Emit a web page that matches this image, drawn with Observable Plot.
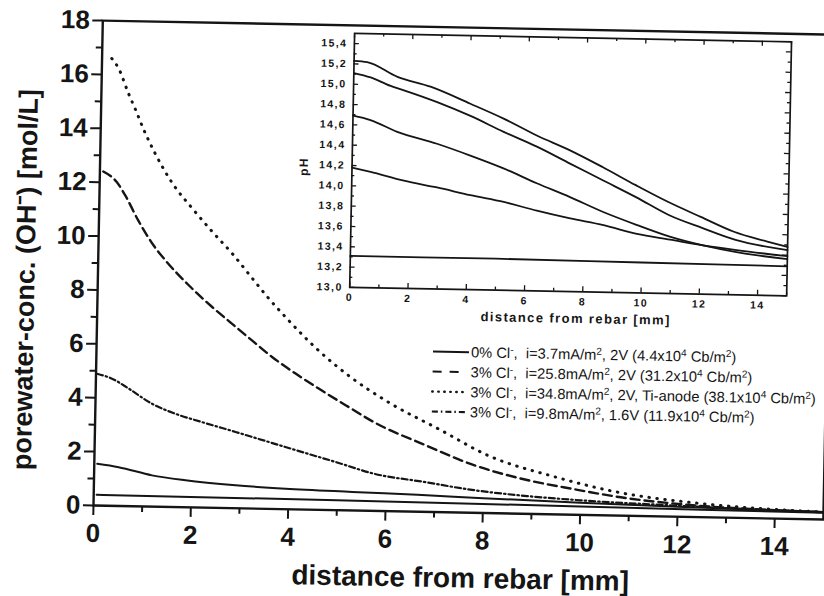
<!DOCTYPE html>
<html>
<head>
<meta charset="utf-8">
<script src="https://cdn.jsdelivr.net/npm/d3@7"></script>
<script src="https://cdn.jsdelivr.net/npm/@observablehq/plot@0.6"></script>
<style>
  html, body { margin: 0; padding: 0; background: #fff; overflow: hidden; }
  #page { position: relative; width: 824px; height: 596px;
          transform-origin: 93px 505px; transform: rotate(1.1deg); }
  #page > svg { position: absolute; overflow: visible; }
  .inset text { letter-spacing: 1.4px; }
  .legend text { font-family: "Liberation Sans", Arial, sans-serif; font-size: 14.7px; white-space: pre; fill: #151515; }
</style>
</head>
<body>
<div id="page"></div>
<script>
// ---- main panel: OH- concentration [mol/L] vs distance from rebar [mm]
const ti34 = [[0.2,16.6],[0.34,16.25],[0.56,15.3],[0.7,14.75],[0.88,14.0],[1.13,13.1],[1.52,11.95],
  [1.91,11.1],[2.33,10.25],[2.75,9.45],[3.17,8.55],[3.45,7.95],[3.94,7.0],[4.57,5.9],[5.23,4.95],
  [6.06,4.0],[7.1,3.05],[8.07,2.15],[9.45,1.4],[10.82,0.85],[12.2,0.55],[13.5,0.38],[15,0.28]];
const cur258 = [[0.07,12.4],[0.35,12.02],[0.53,11.53],[0.81,10.6],[1.13,9.7],[1.38,9.15],[1.87,8.24],
  [2.36,7.45],[2.77,6.85],[3.19,6.24],[3.61,5.64],[4.1,5.04],[4.58,4.5],[5.2,3.84],[5.72,3.3],
  [6.76,2.5],[7.8,1.77],[8.83,1.28],[9.86,0.95],[10.83,0.68],[12.2,0.45],[13.5,0.34],[15,0.27]];
const cur98 = [[0.02,4.89],[0.33,4.72],[0.68,4.36],[1.16,3.82],[1.65,3.46],[2.2,3.17],[2.89,2.83],
  [3.58,2.48],[4.27,2.13],[4.95,1.79],[5.75,1.38],[6.78,1.11],[7.81,0.84],[8.9,0.66],[10,0.54],
  [12,0.41],[13.5,0.33],[15,0.27]];
const noCl = [[0.06,1.55],[0.5,1.44],[1.19,1.16],[1.88,1.0],[2.91,0.85],[3.94,0.76],[5.31,0.69],
  [6.65,0.63],[8,0.55],[10,0.45],[12,0.37],[15,0.28]];
const solidLow = [[0.06,0.4],[5,0.37],[10,0.31],[15,0.25]];

const xMajor = [0, 2, 4, 6, 8, 10, 12, 14];
const xMinor = [1, 3, 5, 7, 9, 11, 13];
const yMajor = [0, 2, 4, 6, 8, 10, 12, 14, 16, 18];
const yMinor = [1, 3, 5, 7, 9, 11, 13, 15, 17];

const xTitle = "distance from rebar [mm]";
const yTitle = "porewater-conc. (OH\u207B) [mol/L]";

// ---- inset: pH vs distance from rebar [mm]
const pHa = [[0,15.23],[0.45,15.22],[1.5,15.08],[2.64,14.99],[4.02,14.83],[5.17,14.69],[6.32,14.53],
  [7.47,14.39],[8.61,14.23],[9.75,14.06],[10.88,13.9],[12.0,13.76],[13.15,13.62],[14.3,13.53],[15,13.48]];
const pHb = [[0,15.11],[0.58,15.07],[1.27,14.99],[1.73,14.95],[2.88,14.84],[4.03,14.71],[5.18,14.56],
  [6.33,14.42],[7.48,14.26],[8.63,14.1],[9.78,13.94],[10.92,13.77],[12.07,13.65],[13.21,13.54],[15,13.45]];
const pHc = [[0,14.69],[0.6,14.65],[1.53,14.54],[2.9,14.43],[4.05,14.32],[5.2,14.2],[6.35,14.06],
  [7.5,13.93],[8.65,13.79],[9.8,13.67],[10.95,13.56],[12.1,13.48],[13.25,13.42],[15,13.36]];
const pHd = [[0,14.18],[0.64,14.14],[1.79,14.06],[2.93,14.0],[4.08,13.93],[5.23,13.87],[6.37,13.79],
  [7.52,13.72],[8.67,13.66],[9.82,13.58],[10.96,13.53],[12.1,13.48],[13.25,13.44],[15,13.39]];
const pHe = [[0,13.31],[5,13.31],[10,13.3],[15,13.29]];

const inXMajor = [0, 2, 4, 6, 8, 10, 12, 14];
const inXMinor = [1, 3, 5, 7, 9, 11, 13, 15];
const inYMajor = [13.0, 13.2, 13.4, 13.6, 13.8, 14.0, 14.2, 14.4, 14.6, 14.8, 15.0, 15.2, 15.4];
const inYMinor = [13.1, 13.3, 13.5, 13.7, 13.9, 14.1, 14.3, 14.5, 14.7, 14.9, 15.1, 15.3];

// ---- legend entries (^x marks a superscript character)
const legendLabels = [
  "0% Cl^-,  i=3.7mA/m^2, 2V (4.4x10^4 Cb/m^2)",
  "3% Cl^-,  i=25.8mA/m^2, 2V (31.2x10^4 Cb/m^2)",
  "3% Cl^-,  i=34.8mA/m^2, 2V, Ti-anode (38.1x10^4 Cb/m^2)",
  "3% Cl^-,  i=9.8mA/m^2, 1.6V (11.9x10^4 Cb/m^2)"
];

const ink = "#151515";
const font = "'Liberation Sans', Arial, Helvetica, sans-serif";
const styles = {
  solid:   {strokeWidth: 2},
  dashed:  {strokeWidth: 2.4, strokeDasharray: "9,5"},
  dotted:  {strokeWidth: 3, strokeDasharray: "0.5,7.5", strokeLinecap: "round"},
  dashdot: {strokeWidth: 2.2, strokeDasharray: "6,3,1.5,3"}
};
const px = d => d[0], py = d => d[1];
const line = (data, s) => Plot.line(data, {x: px, y: py, curve: "monotone-x", stroke: ink, ...s});
const title = (txt, o) => Plot.text([txt], {text: d => d, textAnchor: "middle", lineAnchor: "middle",
  fontWeight: "bold", fill: ink, ...o});

const page = document.getElementById("page");

const main = Plot.plot({
  width: 824, height: 596,
  marginLeft: 93, marginRight: 1, marginTop: 20, marginBottom: 91,
  x: {domain: [0, 15]},
  y: {domain: [0, 18]},
  style: {fontFamily: font, background: "transparent", color: ink},
  marks: [
    Plot.axisY(yMinor, {tickSize: 6, strokeWidth: 2, tickFormat: () => "", label: null}),
    Plot.axisY(yMajor, {tickSize: 10, tickPadding: 3, strokeWidth: 2, fontSize: 26, fontWeight: "bold", label: null}),
    Plot.axisX(xMinor, {tickSize: 6, strokeWidth: 2, tickFormat: () => "", label: null}),
    Plot.axisX(xMajor, {tickSize: 10, tickPadding: 8, strokeWidth: 2, fontSize: 26, fontWeight: "bold", label: null}),
    line(solidLow, styles.solid),
    line(noCl, styles.solid),
    line(cur98, styles.dashdot),
    line(cur258, styles.dashed),
    line(ti34, styles.dotted),
    Plot.frame({stroke: ink, strokeWidth: 2.4}),
    title(yTitle, {frameAnchor: "left", dx: -72, dy: 18, rotate: -90, fontSize: 27}),
    title(xTitle, {frameAnchor: "bottom", dx: 3, dy: 66, fontSize: 28})
  ]
});
main.style.left = "0px"; main.style.top = "0px";
page.appendChild(main);

// inset pH panel, inward ticks on all four sides
const inset = Plot.plot({
  width: 491, height: 298,
  marginLeft: 50, marginRight: 4, marginTop: 4, marginBottom: 40,
  x: {domain: [0, 15]},
  y: {domain: [13, 15.5]},
  className: "inset",
  style: {fontFamily: font, background: "#fff", color: ink},
  marks: [
    Plot.ruleX(inXMajor, {x: d => d, y1: 13, y2: 13.05, stroke: ink, strokeWidth: 1.3}),
    Plot.ruleX(inXMinor, {x: d => d, y1: 13, y2: 13.03, stroke: ink, strokeWidth: 1.3}),
    Plot.ruleX(inXMajor, {x: d => d, y1: 15.5, y2: 15.45, stroke: ink, strokeWidth: 1.3}),
    Plot.ruleX(inXMinor, {x: d => d, y1: 15.5, y2: 15.47, stroke: ink, strokeWidth: 1.3}),
    Plot.ruleY(inYMajor, {y: d => d, x1: 0, x2: 0.17, stroke: ink, strokeWidth: 1.3}),
    Plot.ruleY(inYMinor, {y: d => d, x1: 0, x2: 0.1, stroke: ink, strokeWidth: 1.3}),
    Plot.ruleY(inYMajor, {y: d => d, x1: 15, x2: 14.83, stroke: ink, strokeWidth: 1.3}),
    Plot.ruleY(inYMinor, {y: d => d, x1: 15, x2: 14.9, stroke: ink, strokeWidth: 1.3}),
    Plot.axisX(inXMajor, {tickSize: 0, tickPadding: 6, fontSize: 10.5, fontWeight: "bold", label: null}),
    Plot.axisY(inYMajor, {tickSize: 0, tickPadding: 7, fontSize: 10.5, fontWeight: "bold", label: null,
      tickFormat: d => d.toFixed(1).replace(".", ",")}),
    line(pHe, {strokeWidth: 1.8}),
    line(pHd, {strokeWidth: 1.8}),
    line(pHc, {strokeWidth: 1.8}),
    line(pHb, {strokeWidth: 1.8}),
    line(pHa, {strokeWidth: 1.8}),
    Plot.frame({stroke: ink, strokeWidth: 1.7}),
    title("pH", {frameAnchor: "left", dx: -48, dy: 7, rotate: -90, fontSize: 12}),
    title(xTitle, {frameAnchor: "bottom", dx: 8, dy: 27, fontSize: 13})
  ]
});
inset.style.left = "295px"; inset.style.top = "24px";
page.appendChild(inset);

// legend: line sample + label with superscripts
function richText(sel, s) {
  const re = /\^(.)/g;
  let last = 0, m, raised = false;
  while ((m = re.exec(s))) {
    if (m.index > last) {
      sel.append("tspan").attr("dy", raised ? 5 : 0).text(s.slice(last, m.index));
      raised = false;
    }
    sel.append("tspan").attr("dy", raised ? 0 : -5).attr("font-size", 10).text(m[1]);
    raised = true;
    last = re.lastIndex;
  }
  if (last < s.length) sel.append("tspan").attr("dy", raised ? 5 : 0).text(s.slice(last));
}
const legendStyles = [styles.solid, {strokeWidth: 2, strokeDasharray: "9,8"},
  {strokeWidth: 2.4, strokeDasharray: "0.5,5.5", strokeLinecap: "round"}, styles.dashdot];
const legend = d3.create("svg").attr("class", "legend").attr("width", 404).attr("height", 90)
  .style("left", "420px").style("top", "330px");
legendLabels.forEach((label, i) => {
  const y = 15 + i * 20, s = legendStyles[i];
  legend.append("line").attr("x1", 10).attr("x2", i === 1 ? 40 : 46).attr("y1", y).attr("y2", y)
    .attr("stroke", ink).attr("stroke-width", s.strokeWidth)
    .attr("stroke-dasharray", s.strokeDasharray || null)
    .attr("stroke-linecap", s.strokeLinecap || null);
  const t = legend.append("text").attr("x", 48).attr("y", y + 5);
  richText(t, label);
});
page.appendChild(legend.node());
</script>
</body>
</html>
